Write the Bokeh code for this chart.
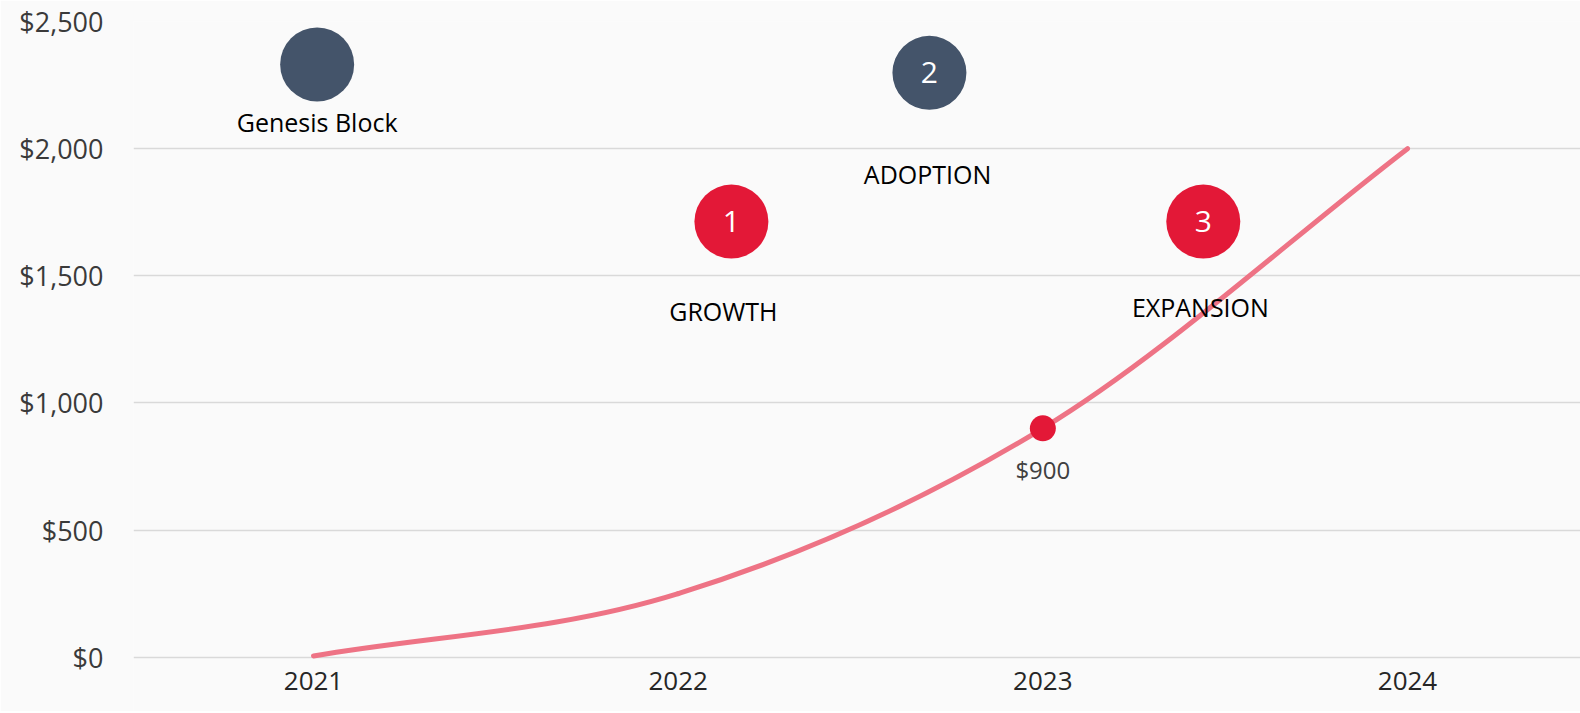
from bokeh.plotting import figure
from bokeh.models import Range1d, FixedTicker, NumeralTickFormatter, ColumnDataSource
from bokeh.core.properties import value
from bokeh.embed import file_html
from bokeh.resources import INLINE

# ---- data ----
years = [2021, 2022, 2023, 2024]
prices = [5, 250, 900, 2000]

highlight_year = [2023]
highlight_price = [900]
highlight_label = ["$900"]

milestone_x = [2021.01, 2022.146, 2022.689, 2023.44]
milestone_y = [2331, 1713, 2298, 1713]
milestone_num = ["", "1", "2", "3"]
milestone_kind = ["dark", "red", "dark", "red"]
milestone_label = ["Genesis Block", "GROWTH", "ADOPTION", "EXPANSION"]
label_x = [2021.01, 2022.124, 2022.684, 2023.432]
label_y = [2106, 1361, 1901, 1376]

y_ticks = [0, 500, 1000, 1500, 2000, 2500]

FONT = "Open Sans"
RED = "#e31837"
LINE = "#ee7385"
DARK = "#44546a"
BG = "#fafafa"

p = figure(width=1580, height=711, output_backend="svg", toolbar_location=None,
           x_range=Range1d(2020.5064, 2024.4744), y_range=Range1d(-213.5, 2500),
           min_border_left=133, min_border_right=0, min_border_top=21, min_border_bottom=0)
p.background_fill_color = BG
p.border_fill_color = BG
p.outline_line_color = None

p.xgrid.grid_line_color = None
p.ygrid.grid_line_color = "#d9d9d9"
p.ygrid.grid_line_width = 1.5
p.ygrid.ticker = FixedTicker(ticks=y_ticks)

for ax in (p.xaxis, p.yaxis):
    ax.axis_line_color = None
    ax.major_tick_line_color = None
    ax.minor_tick_line_color = None
    ax.major_tick_out = 0
    ax.major_tick_in = 0
    ax.major_label_text_font = FONT
    ax.major_label_text_font_size = "27px"

p.yaxis.ticker = FixedTicker(ticks=y_ticks)
p.yaxis.formatter = NumeralTickFormatter(format="$0,0")
p.yaxis.major_label_standoff = 30
p.yaxis.major_label_text_color = "#3a3a3a"
p.xaxis.ticker = FixedTicker(ticks=years)
p.xaxis.fixed_location = 0
p.xaxis.major_label_standoff = 15
p.xaxis.major_label_text_font_size = "26px"
p.xaxis.major_label_text_color = "#262626"

# smooth curve through the data points (cubic Hermite rendered as bezier segments)
n = len(years)
tang = []
for i in range(n):
    if i == 0:
        tang.append((prices[1] - prices[0]) / (years[1] - years[0]))
    elif i == n - 1:
        tang.append((prices[-1] - prices[-2]) / (years[-1] - years[-2]))
    else:
        tang.append((prices[i + 1] - prices[i - 1]) / (years[i + 1] - years[i - 1]))
x0, y0, x1, y1, cx0, cy0, cx1, cy1 = [], [], [], [], [], [], [], []
for i in range(n - 1):
    dx = years[i + 1] - years[i]
    x0.append(years[i]); y0.append(prices[i])
    x1.append(years[i + 1]); y1.append(prices[i + 1])
    cx0.append(years[i] + dx / 3); cy0.append(prices[i] + tang[i] * dx / 3)
    cx1.append(years[i + 1] - dx / 3); cy1.append(prices[i + 1] - tang[i + 1] * dx / 3)
p.bezier(x0=x0, y0=y0, x1=x1, y1=y1, cx0=cx0, cy0=cy0, cx1=cx1, cy1=cy1,
         line_color=LINE, line_width=5, line_cap="round")

# highlight point
p.scatter(highlight_year, highlight_price, size=26, fill_color=RED, line_color=None)
p.text(highlight_year, highlight_price, text=highlight_label, y_offset=41,
       text_font=value(FONT), text_font_size="24px", text_color="#404040",
       text_align="center", text_baseline="middle")

# milestones
colors = [DARK if k == "dark" else RED for k in milestone_kind]
src = ColumnDataSource(dict(x=milestone_x, y=milestone_y, num=milestone_num, c=colors))
p.scatter("x", "y", source=src, size=74, fill_color="c", line_color=None)
p.text("x", "y", text="num", source=src, text_font=value(FONT), text_font_size="30px",
       text_color="white", text_align="center", text_baseline="middle")
p.text(label_x, label_y, text=milestone_label, text_font=value(FONT), text_font_size="25px",
       text_color="black", text_align="center", text_baseline="middle")

open("out.html", "w").write(file_html(p, INLINE))
